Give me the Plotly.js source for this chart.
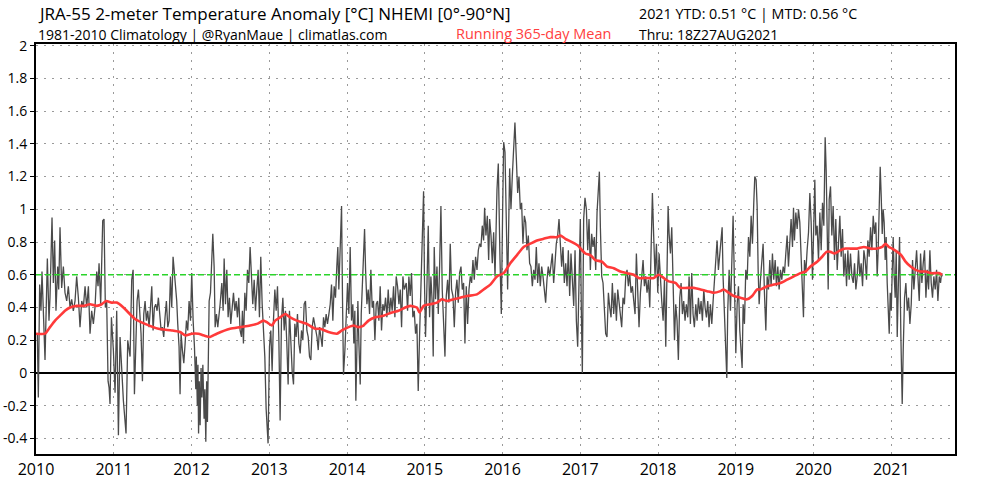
<!DOCTYPE html>
<html>
<head>
<meta charset="utf-8">
<script src="https://cdn.plot.ly/plotly-3.0.1.min.js"></script>
<style>html,body{margin:0;padding:0;background:#fff;}#chart{width:1000px;height:500px;}</style>
</head>
<body>
<div id="chart"></div>
<script>
// ---- Daily anomaly (gray): decimal year / value (°C) ----
const anomYear = [
2010.017, 2010.030, 2010.047, 2010.064, 2010.077, 2010.094, 2010.116, 2010.146,
2010.167, 2010.180, 2010.206, 2010.223, 2010.240, 2010.257, 2010.279, 2010.292,
2010.309, 2010.330, 2010.352, 2010.373, 2010.395, 2010.416, 2010.438, 2010.459,
2010.480, 2010.502, 2010.523, 2010.545, 2010.566, 2010.588, 2010.609, 2010.631,
2010.652, 2010.674, 2010.695, 2010.716, 2010.738, 2010.759, 2010.781, 2010.798,
2010.811, 2010.832, 2010.858, 2010.875, 2010.892, 2010.909, 2010.927, 2010.940,
2010.952, 2010.970, 2010.995, 2011.017, 2011.038, 2011.060, 2011.081, 2011.124,
2011.158, 2011.180, 2011.197, 2011.210, 2011.231, 2011.249, 2011.266, 2011.283,
2011.300, 2011.317, 2011.334, 2011.351, 2011.369, 2011.386, 2011.403, 2011.420,
2011.437, 2011.454, 2011.472, 2011.489, 2011.506, 2011.523, 2011.540, 2011.557,
2011.574, 2011.592, 2011.609, 2011.626, 2011.643, 2011.660, 2011.677, 2011.695,
2011.712, 2011.729, 2011.746, 2011.763, 2011.780, 2011.798, 2011.810, 2011.823,
2011.840, 2011.853, 2011.866, 2011.883, 2011.901, 2011.918, 2011.935, 2011.952,
2011.969, 2011.987, 2012.003, 2012.021, 2012.038, 2012.055, 2012.062, 2012.075,
2012.083, 2012.091, 2012.100, 2012.111, 2012.123, 2012.134, 2012.146, 2012.162,
2012.172, 2012.184, 2012.195, 2012.205, 2012.215, 2012.227, 2012.244, 2012.261,
2012.274, 2012.291, 2012.304, 2012.321, 2012.338,
2012.368, 2012.390, 2012.407, 2012.420, 2012.437, 2012.454, 2012.471, 2012.488,
2012.505, 2012.523, 2012.540, 2012.557, 2012.574, 2012.591, 2012.608, 2012.625,
2012.643, 2012.655, 2012.668, 2012.686, 2012.703, 2012.720, 2012.737, 2012.754,
2012.771, 2012.788, 2012.806, 2012.823, 2012.840, 2012.857, 2012.874, 2012.891,
2012.909, 2012.926, 2012.943, 2012.960, 2012.985, 2012.997, 2013.003, 2013.020,
2013.037, 2013.054, 2013.072, 2013.089, 2013.106, 2013.123, 2013.140, 2013.157,
2013.175, 2013.192, 2013.209, 2013.226, 2013.243, 2013.260, 2013.278, 2013.295,
2013.312, 2013.329, 2013.346, 2013.363, 2013.381, 2013.398, 2013.415, 2013.432,
2013.449, 2013.466, 2013.484, 2013.501, 2013.518, 2013.535, 2013.552, 2013.569,
2013.614, 2013.630, 2013.647, 2013.664, 2013.681, 2013.698, 2013.715, 2013.732,
2013.749, 2013.767, 2013.784, 2013.801, 2013.818, 2013.835, 2013.852, 2013.869,
2013.882, 2013.895, 2013.912, 2013.930, 2013.942, 2013.955, 2013.973, 2013.990,
2014.007, 2014.024, 2014.041, 2014.058, 2014.075, 2014.088, 2014.101, 2014.114,
2014.127, 2014.140, 2014.153, 2014.170, 2014.183, 2014.196, 2014.213, 2014.226,
2014.239, 2014.256, 2014.273, 2014.290, 2014.307, 2014.324, 2014.341, 2014.359,
2014.376, 2014.393, 2014.410, 2014.427, 2014.444, 2014.461, 2014.479, 2014.496,
2014.513, 2014.530, 2014.547, 2014.564, 2014.581, 2014.599, 2014.616, 2014.633,
2014.650, 2014.668, 2014.685, 2014.702, 2014.719, 2014.736,
2014.762, 2014.779, 2014.796, 2014.813, 2014.830, 2014.847, 2014.865, 2014.882,
2014.899, 2014.916, 2014.933, 2014.950, 2014.968, 2014.985, 2014.997, 2015.010,
2015.027, 2015.045, 2015.062, 2015.079, 2015.096, 2015.109, 2015.122, 2015.139,
2015.157, 2015.174, 2015.191, 2015.208, 2015.225, 2015.242, 2015.260, 2015.277,
2015.294, 2015.311, 2015.328, 2015.345, 2015.363, 2015.380, 2015.397, 2015.414,
2015.431, 2015.448, 2015.466, 2015.483, 2015.500, 2015.517, 2015.534, 2015.551,
2015.569, 2015.586, 2015.603, 2015.620, 2015.637, 2015.654, 2015.672, 2015.689,
2015.706, 2015.723, 2015.740, 2015.757, 2015.770, 2015.787, 2015.805, 2015.822,
2015.835, 2015.852, 2015.869, 2015.886, 2015.904,
2015.929, 2015.946, 2015.968, 2015.985, 2016.002, 2016.015, 2016.032, 2016.049,
2016.066, 2016.092, 2016.109, 2016.126, 2016.143, 2016.160, 2016.178, 2016.195,
2016.212, 2016.229, 2016.246, 2016.263, 2016.281, 2016.298, 2016.315, 2016.332,
2016.349, 2016.366, 2016.384, 2016.401, 2016.418, 2016.435, 2016.452, 2016.469,
2016.486, 2016.504, 2016.521, 2016.538, 2016.555, 2016.572, 2016.589, 2016.607,
2016.624, 2016.641, 2016.658, 2016.675, 2016.692, 2016.710, 2016.727, 2016.744,
2016.761, 2016.778, 2016.795, 2016.813, 2016.830, 2016.847, 2016.864, 2016.881,
2016.898, 2016.916, 2016.933, 2016.950, 2016.967, 2016.984, 2017.001, 2017.014,
2017.027, 2017.044,
2017.061, 2017.079, 2017.096, 2017.113, 2017.130, 2017.147, 2017.164, 2017.181,
2017.199, 2017.216, 2017.233, 2017.246, 2017.259, 2017.276, 2017.293, 2017.310,
2017.327, 2017.344, 2017.362, 2017.379, 2017.396, 2017.413, 2017.430, 2017.447,
2017.465, 2017.482, 2017.499, 2017.516, 2017.533, 2017.550, 2017.568, 2017.585,
2017.602, 2017.619, 2017.636, 2017.653, 2017.671, 2017.688, 2017.705, 2017.722,
2017.739, 2017.756, 2017.774, 2017.791, 2017.808, 2017.825, 2017.842, 2017.859,
2017.877, 2017.894, 2017.911, 2017.928, 2017.945, 2017.962, 2017.980, 2017.997,
2018.014, 2018.031, 2018.048, 2018.066, 2018.083, 2018.100, 2018.117, 2018.130,
2018.143, 2018.160, 2018.177, 2018.195, 2018.212,
2018.228, 2018.245, 2018.262, 2018.280, 2018.297, 2018.314, 2018.331, 2018.348,
2018.365, 2018.383, 2018.400, 2018.417, 2018.434, 2018.451, 2018.468, 2018.486,
2018.503, 2018.520, 2018.537, 2018.554, 2018.571, 2018.589, 2018.606, 2018.623,
2018.640, 2018.657, 2018.674, 2018.692, 2018.709, 2018.726, 2018.743, 2018.760,
2018.777, 2018.795, 2018.812, 2018.825, 2018.837, 2018.855, 2018.872, 2018.885,
2018.897, 2018.915, 2018.932, 2018.949, 2018.966, 2018.983, 2019.001, 2019.018,
2019.035, 2019.052, 2019.069, 2019.082, 2019.095, 2019.112, 2019.129, 2019.147,
2019.164, 2019.181, 2019.198, 2019.215, 2019.232, 2019.245, 2019.262, 2019.275,
2019.288, 2019.301,
2019.318, 2019.335, 2019.352, 2019.369, 2019.387, 2019.404, 2019.421, 2019.438,
2019.455, 2019.472, 2019.489, 2019.507, 2019.524, 2019.541, 2019.558, 2019.575,
2019.592, 2019.610, 2019.627, 2019.644, 2019.661, 2019.678, 2019.695, 2019.712,
2019.730, 2019.743, 2019.755, 2019.773, 2019.790, 2019.807, 2019.824, 2019.841,
2019.858, 2019.871, 2019.884, 2019.901, 2019.918, 2019.936, 2019.953, 2019.970,
2019.987, 2020.004, 2020.017, 2020.030, 2020.047, 2020.064, 2020.082, 2020.099,
2020.116, 2020.133, 2020.150, 2020.163, 2020.176, 2020.189, 2020.202, 2020.219,
2020.236, 2020.253, 2020.270, 2020.287, 2020.305, 2020.322, 2020.339, 2020.356,
2020.373, 2020.390, 2020.408, 2020.425, 2020.442, 2020.459,
2020.476, 2020.494, 2020.511, 2020.528, 2020.545, 2020.562, 2020.579, 2020.596,
2020.613, 2020.631, 2020.648, 2020.665, 2020.682, 2020.699, 2020.716, 2020.734,
2020.751, 2020.768, 2020.785, 2020.802, 2020.819, 2020.832, 2020.845, 2020.858,
2020.871, 2020.884, 2020.896, 2020.909, 2020.922, 2020.935, 2020.948, 2020.961,
2020.974, 2020.987, 2021.000, 2021.012, 2021.025, 2021.038, 2021.051, 2021.064,
2021.077, 2021.090, 2021.107, 2021.124, 2021.141, 2021.154, 2021.171, 2021.188,
2021.206, 2021.223, 2021.240, 2021.257, 2021.274, 2021.291, 2021.308, 2021.326,
2021.343, 2021.360, 2021.377, 2021.394, 2021.411, 2021.428, 2021.446, 2021.463,
2021.480, 2021.497, 2021.514, 2021.531, 2021.548, 2021.566, 2021.583, 2021.600,
2021.617, 2021.634, 2021.647, 2021.655
];
const anomValue = [
0.24, -0.15, 0.54, 0.38, 0.62, 0.40, 0.08, 0.70,
0.32, 0.46, 0.95, 0.55, 0.81, 0.38, 0.65, 0.51,
0.89, 0.52, 0.65, 0.49, 0.44, 0.53, 0.40, 0.45,
0.38, 0.44, 0.59, 0.46, 0.28, 0.44, 0.40, 0.53,
0.40, 0.53, 0.24, 0.38, 0.30, 0.40, 0.62, 0.53,
0.67, 0.42, 0.93, 0.94, 0.40, 0.44, -0.05, -0.09,
-0.19, 0.34, 0.14, -0.12, 0.38, -0.38, 0.22, -0.17,
-0.37, 0.20, 0.14, 0.10, 0.57, 0.63, -0.13, 0.24,
0.44, 0.51, 0.38, 0.24, -0.05, 0.36, 0.44, 0.32,
0.38, 0.28, 0.40, 0.53, 0.26, 0.40, 0.42, 0.38,
0.46, 0.36, 0.26, 0.28, 0.22, 0.34, 0.44, 0.28,
0.32, 0.59, 0.40, 0.71, 0.61, 0.55, 0.44, 0.30,
0.16, -0.13, 0.24, 0.14, 0.06, 0.18, 0.32, 0.26,
0.44, 0.32, 0.61, 0.32, 0.16, -0.10, 0.10, -0.20,
0.05, -0.37, -0.05, -0.32, 0.03, -0.15, 0.05, -0.28,
-0.10, -0.42, -0.05, -0.30, 0.24, 0.44, 0.49, 0.69,
0.85, 0.65, 0.28, 0.36, 0.28,
0.42, 0.55, 0.38, 0.70, 0.42, 0.63, 0.34, 0.46,
0.30, 0.42, 0.49, 0.38, 0.44, 0.34, 0.46, 0.26,
0.22, 0.38, 0.18, 0.49, 0.38, 0.63, 0.55, 0.77,
0.53, 0.42, 0.57, 0.38, 0.51, 0.63, 0.34, 0.71,
0.42, 0.22, 0.10, -0.22, -0.43, -0.03, 0.16, 0.26,
0.01, 0.32, 0.51, 0.38, 0.53, 0.22, -0.29, 0.32,
0.46, 0.26, 0.38, 0.18, -0.07, 0.38, 0.18, 0.01,
-0.07, 0.30, 0.22, 0.36, 0.18, 0.12, 0.26, 0.20,
0.42, 0.44, 0.26, 0.22, 0.10, 0.08, 0.28, 0.34,
0.22, 0.14, 0.28, 0.20, 0.16, 0.34, 0.28, 0.36,
0.30, 0.36, 0.42, 0.54, 0.32, 0.53, 0.46, 0.65,
0.77, 0.51, 0.75, 1.02, 0.46, -0.01, 0.14, 0.32,
0.55, 0.36, 0.77, 0.32, 0.42, 0.18, 0.38, -0.17,
0.22, 0.44, 0.18, -0.07, 0.36, 0.55, 0.75, 0.88,
0.63, 0.42, 0.51, 0.36, 0.63, 0.40, 0.44, 0.20,
0.42, 0.44, 0.32, 0.53, 0.26, 0.42, 0.38, 0.46,
0.34, 0.51, 0.36, 0.46, 0.38, 0.53, 0.34, 0.59,
0.53, 0.42, 0.51, 0.28, 0.59, 0.51,
0.55, 0.38, 0.59, 0.47, 0.61, 0.34, 0.38, 0.24,
0.30, -0.11, 0.22, 0.51, 0.75, 1.11, 0.55, 0.22,
0.51, 0.90, 0.34, 0.59, 0.43, 0.10, 0.77, 0.45,
0.65, 0.36, 0.65, 1.02, 0.51, 0.34, 0.10, 0.47,
0.57, 0.43, 0.79, 0.51, 0.47, 0.28, 0.49, 0.57,
0.43, 0.61, 0.65, 0.51, 0.55, 0.18, 0.53, 0.30,
0.51, 0.59, 0.55, 0.69, 0.57, 0.71, 0.63, 0.75,
0.79, 0.77, 0.90, 0.81, 1.01, 0.84, 0.96, 0.69,
0.94, 0.84, 0.67, 0.86, 0.59,
1.12, 1.28, 0.69, 0.36, 1.00, 1.41, 1.35, 0.94,
0.51, 1.25, 1.00, 1.20, 1.39, 1.53, 1.31, 1.10,
1.20, 1.00, 1.04, 0.79, 0.96, 0.92, 0.75, 0.84,
0.67, 0.65, 0.53, 0.63, 0.57, 0.77, 0.55, 0.67,
0.53, 0.65, 0.59, 0.49, 0.43, 0.57, 0.65, 0.59,
0.67, 0.73, 0.55, 0.69, 0.79, 0.84, 0.94, 0.79,
0.65, 0.77, 0.55, 0.67, 0.53, 0.75, 0.47, 0.73,
0.57, 0.41, 0.75, 0.32, 0.16, 0.67, 0.94, 0.38,
0.00, 0.94,
1.07, 1.00, 0.75, 0.94, 0.63, 0.85, 0.77, 0.83,
0.63, 0.98, 1.10, 1.23, 0.89, 0.59, 0.55, 0.38,
0.24, 0.22, 0.49, 0.40, 0.34, 0.55, 0.36, 0.49,
0.32, 0.51, 0.44, 0.36, 0.28, 0.46, 0.42, 0.59,
0.63, 0.53, 0.61, 0.49, 0.53, 0.44, 0.36, 0.73,
0.55, 0.28, 0.49, 0.61, 0.69, 0.53, 0.59, 0.49,
0.57, 0.40, 0.75, 1.10, 0.83, 0.59, 0.79, 0.49,
0.73, 0.53, 0.44, 0.32, 0.57, 0.16, 0.63, 1.02,
0.85, 0.73, 0.89, 0.44, 0.20,
0.42, 0.32, 0.08, 0.46, 0.55, 0.36, 0.44, 0.32,
0.42, 0.34, 0.59, 0.30, 0.61, 0.36, 0.28, 0.42,
0.32, 0.46, 0.36, 0.44, 0.32, 0.51, 0.40, 0.34,
0.44, 0.28, 0.42, 0.30, 0.44, 0.57, 0.73, 0.81,
0.63, 0.73, 0.83, 0.89, 0.59, 0.32, 0.18, -0.03,
0.38, 0.63, 0.38, 0.71, 0.96, 0.55, 0.12, 0.42,
0.53, 0.26, 0.12, 0.03, 0.42, 0.30, 0.63, 0.57,
0.83, 0.71, 0.96, 0.79, 1.04, 1.20, 1.18, 1.02,
0.63, 0.42,
0.57, 0.71, 0.79, 0.49, 0.26, 0.59, 0.51, 0.69,
0.53, 0.73, 0.57, 0.69, 0.53, 0.65, 0.51, 0.63,
0.57, 0.65, 0.61, 0.73, 0.84, 0.65, 0.81, 0.94,
0.77, 1.01, 0.81, 0.98, 0.88, 1.00, 0.92, 0.73,
0.57, 0.34, 0.69, 0.61, 0.75, 0.86, 1.10, 0.92,
0.57, 1.06, 1.18, 0.84, 0.90, 0.69, 0.98, 0.75,
1.04, 0.90, 1.44, 1.24, 0.96, 0.51, 1.06, 1.14,
0.84, 1.02, 0.69, 0.94, 0.63, 0.84, 0.96, 0.71,
0.88, 0.59, 0.73, 0.53, 0.75, 0.57,
0.73, 0.59, 0.55, 0.67, 0.51, 0.59, 0.75, 0.59,
0.67, 0.53, 0.75, 0.69, 0.57, 0.81, 0.71, 0.89,
0.75, 0.96, 0.85, 0.92, 0.59, 0.75, 1.02, 1.26,
1.08, 0.85, 1.00, 0.92, 0.69, 0.83, 0.55, 0.38,
0.24, 0.49, 0.38, 0.61, 0.83, 0.59, 0.46, 0.75,
0.22, 0.51, 0.83, 0.22, -0.19, 0.14, 0.46, 0.55,
0.38, 0.46, 0.30, 0.42, 0.69, 0.51, 0.61, 0.75,
0.59, 0.44, 0.73, 0.55, 0.67, 0.75, 0.46, 0.63,
0.51, 0.75, 0.55, 0.46, 0.59, 0.51, 0.63, 0.44,
0.59, 0.55, 0.61, 0.59
];

// ---- Running 365-day mean (red) ----
const meanYear = [
2010.000, 2010.116, 2010.180, 2010.245, 2010.309, 2010.373, 2010.438, 2010.524, 2010.609, 2010.695,
2010.781, 2010.845, 2010.901, 2010.974, 2011.038, 2011.124, 2011.274, 2011.403, 2011.574, 2011.746,
2011.853, 2011.918, 2012.003, 2012.089, 2012.154, 2012.239, 2012.325, 2012.497, 2012.625, 2012.754,
2012.840, 2012.926, 2012.969, 2013.033, 2013.076, 2013.140, 2013.205, 2013.269, 2013.355, 2013.483,
2013.591, 2013.655, 2013.762, 2013.870, 2013.934, 2014.020, 2014.084, 2014.148, 2014.213, 2014.277,
2014.363, 2014.470, 2014.577, 2014.663, 2014.749, 2014.813, 2014.899, 2014.933, 2014.985, 2015.071,
2015.157, 2015.221, 2015.285, 2015.371, 2015.457, 2015.543, 2015.671, 2015.757, 2015.843, 2015.929,
2016.015, 2016.100, 2016.186, 2016.272, 2016.358, 2016.444, 2016.529, 2016.615, 2016.701, 2016.744,
2016.808, 2016.894, 2016.967, 2017.023, 2017.066, 2017.130, 2017.194, 2017.280, 2017.344, 2017.430,
2017.516, 2017.602, 2017.688, 2017.752, 2017.816, 2017.881, 2017.945, 2018.009, 2018.074, 2018.138,
2018.224, 2018.288, 2018.374, 2018.460, 2018.546, 2018.631, 2018.717, 2018.803, 2018.846, 2018.910,
2018.975, 2019.060, 2019.146, 2019.211, 2019.275, 2019.318, 2019.404, 2019.489, 2019.575, 2019.661,
2019.747, 2019.833, 2019.897, 2019.961, 2020.047, 2020.111, 2020.167, 2020.219, 2020.270, 2020.347,
2020.412, 2020.476, 2020.562, 2020.648, 2020.734, 2020.819, 2020.884, 2020.926, 2020.969, 2021.012,
2021.077, 2021.128, 2021.184, 2021.249, 2021.313, 2021.377, 2021.442, 2021.506, 2021.570, 2021.613,
2021.655
];
const meanValue = [
0.24, 0.24, 0.28, 0.32, 0.35, 0.38, 0.40, 0.41, 0.41, 0.42,
0.41, 0.42, 0.44, 0.43, 0.43, 0.40, 0.33, 0.30, 0.27, 0.26,
0.25, 0.23, 0.24, 0.24, 0.23, 0.22, 0.24, 0.27, 0.28, 0.29,
0.30, 0.32, 0.31, 0.29, 0.32, 0.34, 0.36, 0.34, 0.32, 0.30,
0.27, 0.27, 0.25, 0.24, 0.26, 0.28, 0.29, 0.28, 0.29, 0.32,
0.34, 0.35, 0.37, 0.38, 0.40, 0.41, 0.40, 0.37, 0.41, 0.42,
0.43, 0.45, 0.44, 0.45, 0.46, 0.47, 0.48, 0.51, 0.54, 0.59,
0.61, 0.67, 0.72, 0.77, 0.79, 0.81, 0.82, 0.83, 0.83, 0.84,
0.82, 0.80, 0.78, 0.75, 0.73, 0.72, 0.69, 0.68, 0.65, 0.64,
0.62, 0.61, 0.60, 0.58, 0.58, 0.58, 0.58, 0.60, 0.58, 0.56,
0.55, 0.52, 0.52, 0.52, 0.51, 0.50, 0.49, 0.50, 0.51, 0.49,
0.47, 0.46, 0.45, 0.47, 0.51, 0.51, 0.53, 0.54, 0.55, 0.57,
0.59, 0.61, 0.62, 0.65, 0.68, 0.71, 0.74, 0.74, 0.73, 0.75,
0.76, 0.76, 0.76, 0.77, 0.76, 0.76, 0.77, 0.79, 0.77, 0.76,
0.74, 0.72, 0.68, 0.65, 0.63, 0.62, 0.62, 0.61, 0.61, 0.61,
0.60
];

const referenceLevel = 0.6;
const yearTicks = [2010, 2011, 2012, 2013, 2014, 2015, 2016, 2017, 2018, 2019, 2020, 2021];
const yearLabels = ['2010','2011','2012','2013','2014','2015','2016','2017','2018','2019','2020','2021'];
const yTickVals = [-0.4, -0.2, 0, 0.2, 0.4, 0.6, 0.8, 1, 1.2, 1.4, 1.6, 1.8, 2];
const yTickLabels = ['-0.4','-0.2','0','0.2','0.4','0.6','0.8','1','1.2','1.4','1.6','1.8','2'];

const titleText = 'JRA-55 2-meter Temperature Anomaly [°C] NHEMI [0°-90°N]';
const subtitleText = '1981-2010 Climatology | @RyanMaue | climatlas.com';
const meanLabel = 'Running 365-day Mean';
const statsText = '2021 YTD: 0.51 °C | MTD: 0.56 °C';
const thruText = 'Thru: 18Z27AUG2021';

const FONT = 'Open Sans, Lato, sans-serif';
const xRange = [2010, 2021.82];

const traces = [
  {x: anomYear, y: anomValue, type: 'scatter', mode: 'lines',
   line: {color: '#4a4a4a', width: 1.3}, hoverinfo: 'skip', showlegend: false},
  {x: xRange, y: [referenceLevel, referenceLevel], type: 'scatter', mode: 'lines',
   line: {color: '#2ad42a', width: 1.6, dash: '6px,3px'}, hoverinfo: 'skip', showlegend: false},
  {x: meanYear, y: meanValue, type: 'scatter', mode: 'lines',
   line: {color: '#ff3a3a', width: 2.6, shape: 'spline', smoothing: 0.6}, hoverinfo: 'skip', showlegend: false}
];

const LINE1_Y = 1.0744;
const LINE2_Y = 1.0225;

const layout = {
  width: 1000, height: 500,
  margin: {l: 36, r: 45, t: 44, b: 46, pad: 0},
  paper_bgcolor: '#ffffff', plot_bgcolor: '#ffffff',
  font: {family: FONT, color: '#000'},
  showlegend: false,
  xaxis: {
    range: xRange, tickvals: yearTicks, ticktext: yearLabels,
    showgrid: true, gridcolor: '#9a9a9a', gridwidth: 1, griddash: '2px,6px',
    showline: true, mirror: true, linecolor: '#000', linewidth: 2,
    ticks: '', zeroline: false,
    tickfont: {family: FONT, size: 16, color: '#000'}
  },
  yaxis: {
    range: [-0.495, 2.01], tickvals: yTickVals, ticktext: yTickLabels,
    showgrid: true, gridcolor: '#9a9a9a', gridwidth: 1, griddash: '2px,6px',
    showline: true, mirror: true, linecolor: '#000', linewidth: 2,
    ticks: 'outside', ticklen: 4, tickcolor: '#000', tickwidth: 1,
    zeroline: true, zerolinecolor: '#000', zerolinewidth: 2,
    tickfont: {family: FONT, size: 14, color: '#000'}
  },
  annotations: [
    {text: titleText, xref: 'paper', yref: 'paper', x: 0.001, y: LINE1_Y, xanchor: 'left', yanchor: 'middle',
     showarrow: false, borderpad: 0, font: {family: FONT, size: 17, color: '#000'}},
    {text: subtitleText, xref: 'paper', yref: 'paper', x: 0.001, y: LINE2_Y, xanchor: 'left', yanchor: 'middle',
     showarrow: false, borderpad: 0, font: {family: FONT, size: 14, color: '#000'}},
    {text: meanLabel, xref: 'paper', yref: 'paper', x: 0.4564, y: LINE2_Y, xanchor: 'left', yanchor: 'middle',
     yshift: 1, showarrow: false, borderpad: 0, font: {family: FONT, size: 14.5, color: '#ff4040'}},
    {text: statsText, xref: 'paper', yref: 'paper', x: 0.6547, y: LINE1_Y, xanchor: 'left', yanchor: 'middle',
     showarrow: false, borderpad: 0, font: {family: FONT, size: 14.3, color: '#000'}},
    {text: thruText, xref: 'paper', yref: 'paper', x: 0.6547, y: LINE2_Y, xanchor: 'left', yanchor: 'middle',
     showarrow: false, borderpad: 0, font: {family: FONT, size: 14, color: '#000'}}
  ]
};

Plotly.newPlot('chart', traces, layout, {displayModeBar: false, staticPlot: true});
</script>
</body>
</html>
